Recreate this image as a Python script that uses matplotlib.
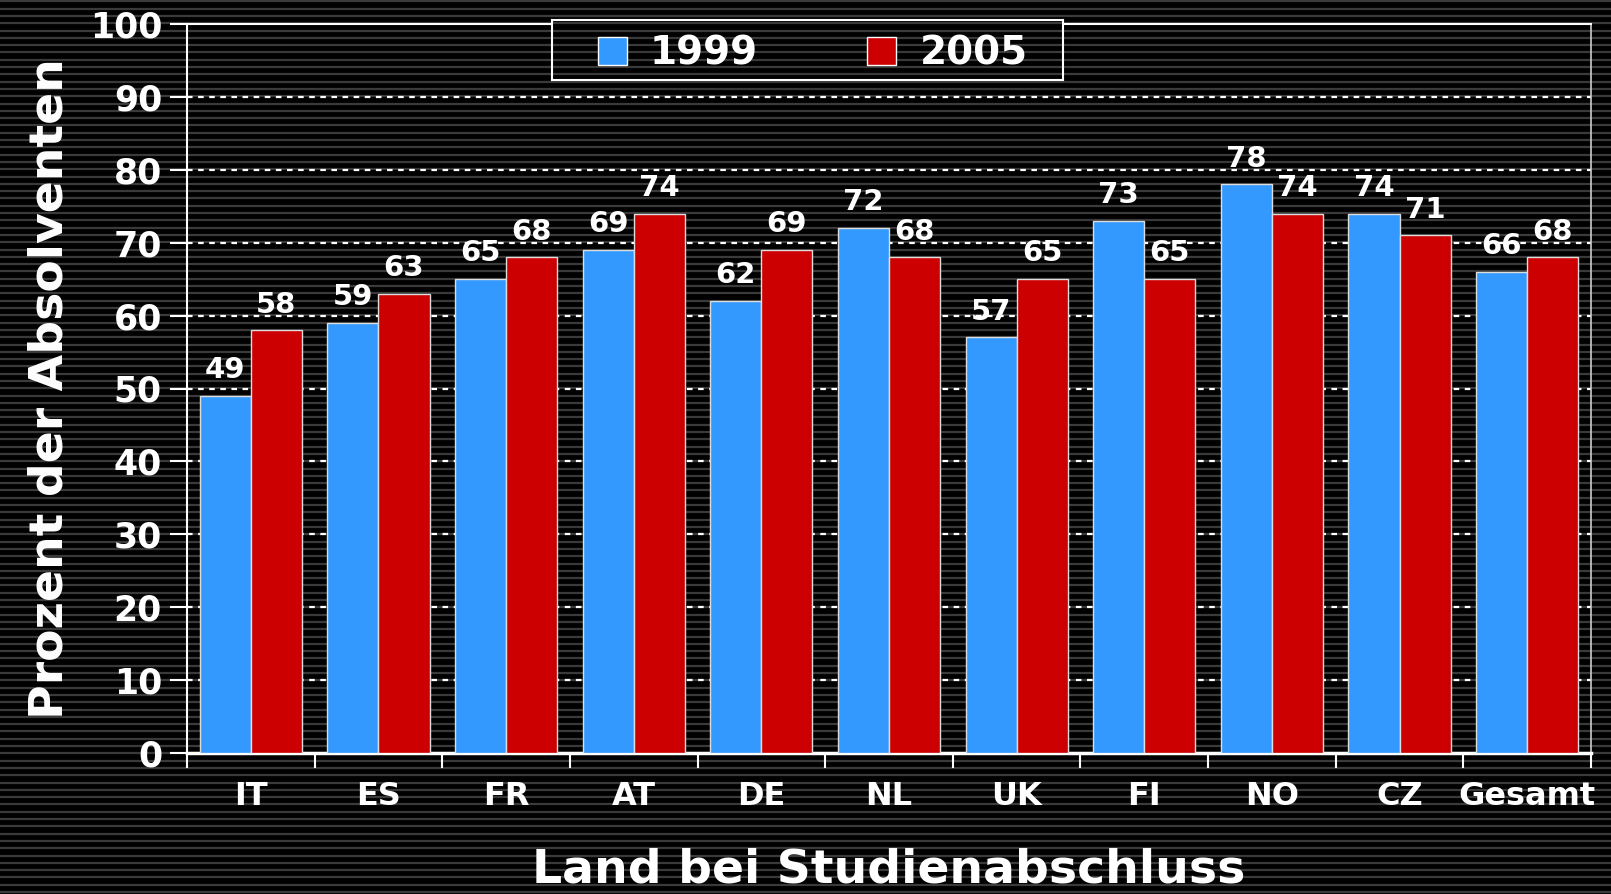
import numpy as np
import matplotlib
matplotlib.use("Agg")
import matplotlib.pyplot as plt

# Daten
laender = ["IT", "ES", "FR", "AT", "DE", "NL", "UK", "FI", "NO", "CZ", "Gesamt"]
werte_1999 = [49, 59, 65, 69, 62, 72, 57, 73, 78, 74, 66]
werte_2005 = [58, 63, 68, 74, 69, 68, 65, 65, 74, 71, 68]
y_ticks = [0, 10, 20, 30, 40, 50, 60, 70, 80, 90, 100]

blau = "#3399ff"
rot = "#cc0000"

plt.rcParams["font.family"] = ["DejaVu Sans"]

W, H = 1611, 894
fig = plt.figure(figsize=(W / 100, H / 100), dpi=100, facecolor="black")


def streifen(a):
    # graue Linien wie im Original
    for y in np.arange(2, H, 7.3):
        a.axhline(y, color="#3a3a3a", lw=1.6)


bg = fig.add_axes([0, 0, 1, 1], zorder=-10)
bg.set_xlim(0, W)
bg.set_ylim(0, H)
bg.set_facecolor("black")
streifen(bg)
bg.axis("off")

ax = fig.add_axes([187 / W, 1 - 753 / H, (1591 - 187) / W, (753 - 24) / H])
ax.patch.set_alpha(0)

x = np.arange(len(laender))
breite = 0.4
b1 = ax.bar(x - breite / 2, werte_1999, breite, color=blau, edgecolor="#dddddd", linewidth=1, zorder=3, label="1999")
b2 = ax.bar(x + breite / 2, werte_2005, breite, color=rot, edgecolor="#dddddd", linewidth=1, zorder=3, label="2005")

for bars, werte in ((b1, werte_1999), (b2, werte_2005)):
    for b, v in zip(bars, werte):
        ax.text(b.get_x() + b.get_width() / 2, v + 1.6, str(v), ha="center", va="bottom",
                color="white", fontsize=21, fontweight="bold", zorder=4)

ax.set_xlim(-0.5, len(laender) - 0.5)
ax.set_ylim(0, 100)
ax.set_yticks(y_ticks)
ax.set_yticklabels([str(t) for t in y_ticks], fontsize=25, fontweight="bold", color="white")
ax.set_xticks(np.arange(len(laender) + 1) - 0.5)
ax.set_xticklabels([])
ax.set_xticks(x, minor=True)
ax.set_xticklabels(laender, minor=True, fontsize=23, fontweight="bold", color="white")
ax.tick_params(axis="x", which="major", direction="out", length=11, width=1.5, color="white")
ax.tick_params(axis="x", which="minor", length=0, pad=20)
ax.tick_params(axis="y", direction="out", length=12, width=1.5, color="white", pad=6)

for t in y_ticks[1:-1]:
    ax.axhline(t, color="white", lw=1.6, ls=(0, (2.5, 2.5)), zorder=1)

for s in ["left", "bottom", "top", "right"]:
    ax.spines[s].set_color("white")
ax.spines["left"].set_linewidth(1.5)
ax.spines["bottom"].set_linewidth(2.5)
ax.spines["top"].set_linewidth(1.5)
ax.spines["right"].set_linewidth(1.2)
ax.spines["right"].set_color("#cccccc")

ax.set_ylabel("Prozent der Absolventen", fontsize=34, fontweight="bold", color="white", labelpad=12)
ax.set_xlabel("Land bei Studienabschluss", fontsize=34, fontweight="bold", color="white", labelpad=26)

# Legendenkasten (mit Streifen, verdeckt die obere Linie)
lx0, lx1, ly0, ly1 = 552, 1063, 19.5, 80
box = fig.add_axes([lx0 / W, 1 - ly1 / H, (lx1 - lx0) / W, (ly1 - ly0) / H], zorder=5)
box.set_xlim(0, 1)
box.set_ylim(H - ly1, H - ly0)
box.set_facecolor("black")
streifen(box)
box.set_xticks([])
box.set_yticks([])
for s in box.spines.values():
    s.set_color("white")
    s.set_linewidth(1.5)

leg = box.legend(handles=[b1, b2], labels=["1999", "2005"], loc="center", bbox_to_anchor=(0.51, 0.44),
                 ncol=2, frameon=False, fontsize=28, handlelength=0.75, handleheight=0.75,
                 columnspacing=2.8, handletextpad=0.6)
for txt in leg.get_texts():
    txt.set_color("white")
    txt.set_fontweight("bold")
for h in leg.legend_handles:
    h.set_edgecolor("white")

fig.savefig("out.png", dpi=100, facecolor="black")
